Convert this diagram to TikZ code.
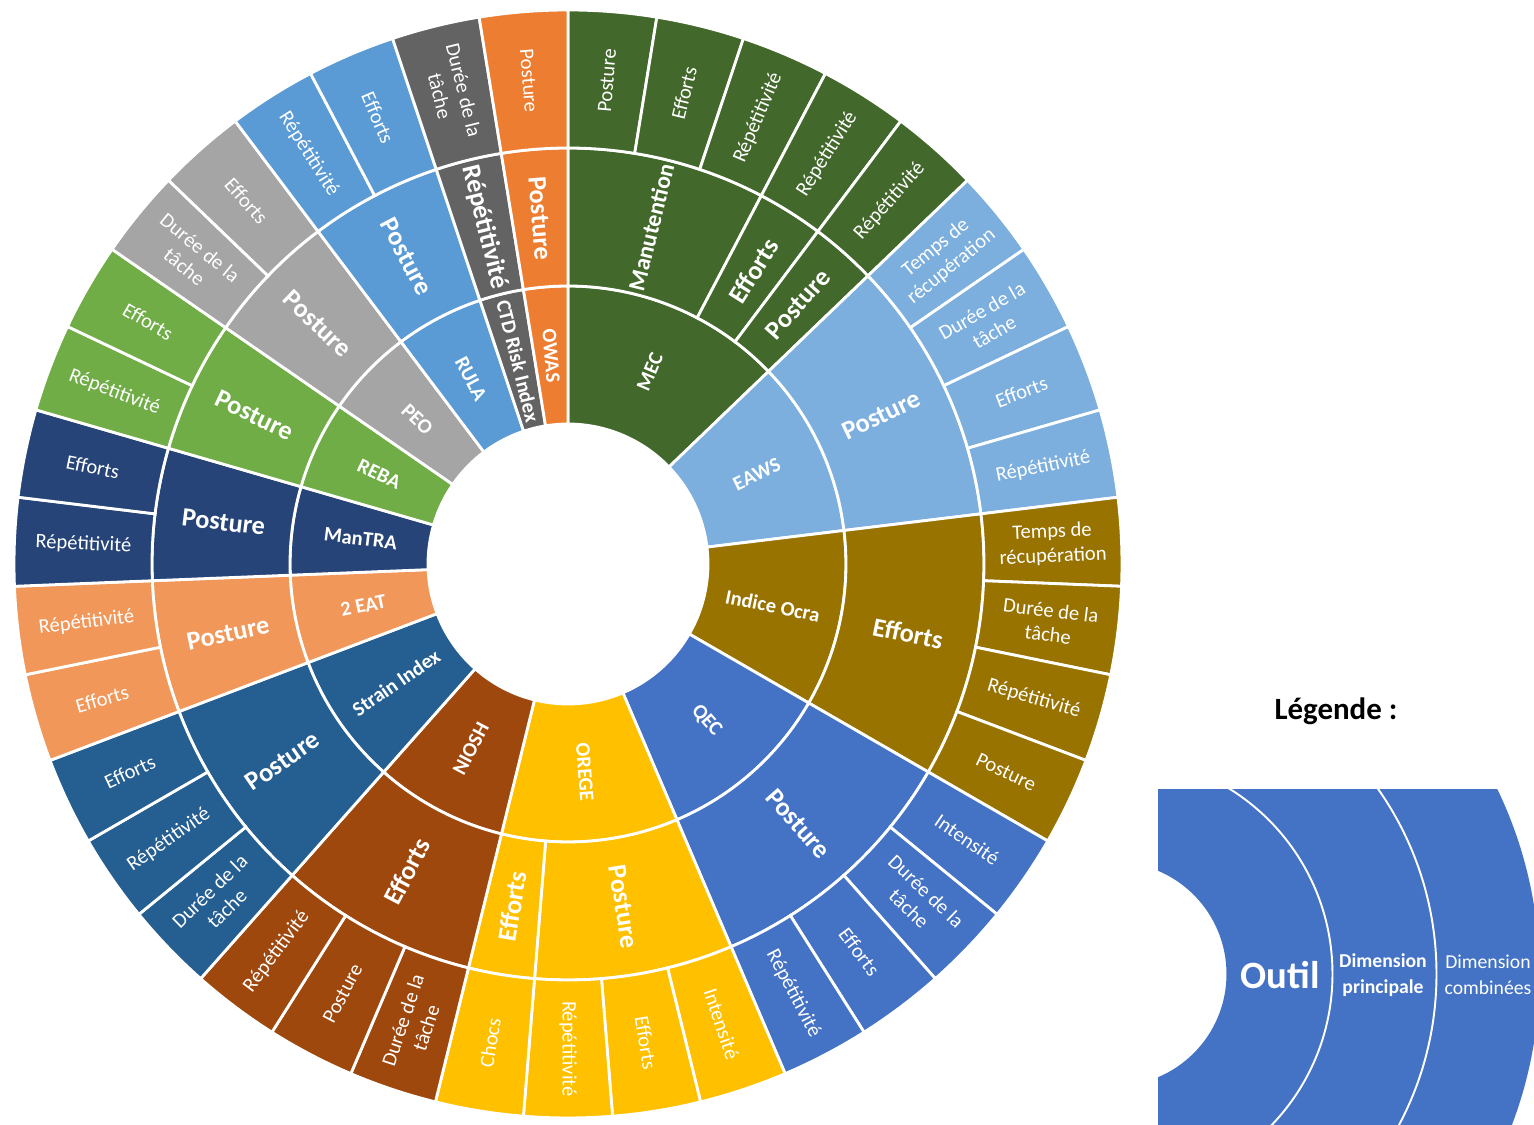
\documentclass[tikz,border=0pt]{standalone}
\usepackage{fontspec}
\setmainfont{Carlito}
\definecolor{MecClr}{HTML}{43682B}
\definecolor{EawsClr}{HTML}{7CAFDD}
\definecolor{OcraClr}{HTML}{997300}
\definecolor{QecClr}{HTML}{4472C4}
\definecolor{OregeClr}{HTML}{FFC000}
\definecolor{NioshClr}{HTML}{9E480E}
\definecolor{StrainClr}{HTML}{255E91}
\definecolor{EatClr}{HTML}{F1975A}
\definecolor{MantraClr}{HTML}{264478}
\definecolor{RebaClr}{HTML}{70AD47}
\definecolor{PeoClr}{HTML}{A5A5A5}
\definecolor{RulaClr}{HTML}{5B9BD5}
\definecolor{CtdClr}{HTML}{636363}
\definecolor{OwasClr}{HTML}{ED7D31}
\definecolor{LegClr}{HTML}{4472C4}

\tikzset{
  seg/.style={draw=white,line width=1.6pt},
  ring1/.style={text=white,font=\bfseries\fontsize{11.7}{14}\selectfont},
  ring2/.style={text=white,font=\bfseries\fontsize{15}{18}\selectfont},
  ring3/.style={text=white,align=center,font=\fontsize{11.7}{14}\selectfont},
}

% #1 ring, #2 first leaf, #3 last leaf, #4 colour, #5 name, #6 text
\newcommand{\Sect}[6]{%
  \pgfmathsetmacro{\aA}{90-#2*360/39}%
  \pgfmathsetmacro{\aB}{90-#3*360/39}%
  \pgfmathsetmacro{\rA}{2.8+(#1-1)*2.76}%
  \pgfmathsetmacro{\rB}{\rA+2.76}%
  \pgfmathsetmacro{\aM}{(\aA+\aB)/2}%
  \pgfmathsetmacro{\rM}{(\rA+\rB)/2}%
  \pgfmathsetmacro{\rot}{cos(\aM)<-0.01 ? \aM+180 : \aM}%
  \filldraw[seg,fill=#4] (\aA:\rA) arc[start angle=\aA,end angle=\aB,radius=\rA]
    -- (\aB:\rB) arc[start angle=\aB,end angle=\aA,radius=\rB] -- cycle;
  \node[ring#1,rotate=\rot] (#5) at (\aM:\rM) {#6};
}

\begin{document}
\begin{tikzpicture}
\useasboundingbox (-11.36,-11.22) rectangle (19.32,11.28);
\coordinate (O) at (0,0);

\Sect{1}{0}{5}{MecClr}{mec}{MEC}
\Sect{1}{5}{9}{EawsClr}{eaws}{EAWS}
\Sect{1}{9}{13}{OcraClr}{ocra}{Indice Ocra}
\Sect{1}{13}{17}{QecClr}{qec}{QEC}
\Sect{1}{17}{21}{OregeClr}{orege}{OREGE}
\Sect{1}{21}{24}{NioshClr}{niosh}{NIOSH}
\Sect{1}{24}{27}{StrainClr}{strain}{Strain Index}
\Sect{1}{27}{29}{EatClr}{eat}{2 EAT}
\Sect{1}{29}{31}{MantraClr}{mantra}{ManTRA}
\Sect{1}{31}{33}{RebaClr}{reba}{REBA}
\Sect{1}{33}{35}{PeoClr}{peo}{PEO}
\Sect{1}{35}{37}{RulaClr}{rula}{RULA}
\Sect{1}{37}{38}{CtdClr}{ctd}{CTD Risk Index}
\Sect{1}{38}{39}{OwasClr}{owas}{OWAS}

\Sect{2}{0}{3}{MecClr}{mec-man}{\fontsize{13.5}{16}\selectfont Manutention}
\Sect{2}{3}{4}{MecClr}{mec-eff}{Efforts}
\Sect{2}{4}{5}{MecClr}{mec-pos}{Posture}
\Sect{2}{5}{9}{EawsClr}{eaws-pos}{Posture}
\Sect{2}{9}{13}{OcraClr}{ocra-eff}{Efforts}
\Sect{2}{13}{17}{QecClr}{qec-pos}{Posture}
\Sect{2}{17}{20}{OregeClr}{orege-pos}{Posture}
\Sect{2}{20}{21}{OregeClr}{orege-eff}{Efforts}
\Sect{2}{21}{24}{NioshClr}{niosh-eff}{Efforts}
\Sect{2}{24}{27}{StrainClr}{strain-pos}{Posture}
\Sect{2}{27}{29}{EatClr}{eat-pos}{Posture}
\Sect{2}{29}{31}{MantraClr}{mantra-pos}{Posture}
\Sect{2}{31}{33}{RebaClr}{reba-pos}{Posture}
\Sect{2}{33}{35}{PeoClr}{peo-pos}{Posture}
\Sect{2}{35}{37}{RulaClr}{rula-pos}{Posture}
\Sect{2}{37}{38}{CtdClr}{ctd-rep}{Répétitivité}
\Sect{2}{38}{39}{OwasClr}{owas-pos}{Posture}

\Sect{3}{0}{1}{MecClr}{leaf1}{Posture}
\Sect{3}{1}{2}{MecClr}{leaf2}{Efforts}
\Sect{3}{2}{3}{MecClr}{leaf3}{Répétitivité}
\Sect{3}{3}{4}{MecClr}{leaf4}{Répétitivité}
\Sect{3}{4}{5}{MecClr}{leaf5}{Répétitivité}
\Sect{3}{5}{6}{EawsClr}{leaf6}{Temps de\\récupération}
\Sect{3}{6}{7}{EawsClr}{leaf7}{Durée de la\\tâche}
\Sect{3}{7}{8}{EawsClr}{leaf8}{Efforts}
\Sect{3}{8}{9}{EawsClr}{leaf9}{Répétitivité}
\Sect{3}{9}{10}{OcraClr}{leaf10}{Temps de\\récupération}
\Sect{3}{10}{11}{OcraClr}{leaf11}{Durée de la\\tâche}
\Sect{3}{11}{12}{OcraClr}{leaf12}{Répétitivité}
\Sect{3}{12}{13}{OcraClr}{leaf13}{Posture}
\Sect{3}{13}{14}{QecClr}{leaf14}{Intensité}
\Sect{3}{14}{15}{QecClr}{leaf15}{Durée de la\\tâche}
\Sect{3}{15}{16}{QecClr}{leaf16}{Efforts}
\Sect{3}{16}{17}{QecClr}{leaf17}{Répétitivité}
\Sect{3}{17}{18}{OregeClr}{leaf18}{Intensité}
\Sect{3}{18}{19}{OregeClr}{leaf19}{Efforts}
\Sect{3}{19}{20}{OregeClr}{leaf20}{Répétitivité}
\Sect{3}{20}{21}{OregeClr}{leaf21}{Chocs}
\Sect{3}{21}{22}{NioshClr}{leaf22}{Durée de la\\tâche}
\Sect{3}{22}{23}{NioshClr}{leaf23}{Posture}
\Sect{3}{23}{24}{NioshClr}{leaf24}{Répétitivité}
\Sect{3}{24}{25}{StrainClr}{leaf25}{Durée de la\\tâche}
\Sect{3}{25}{26}{StrainClr}{leaf26}{Répétitivité}
\Sect{3}{26}{27}{StrainClr}{leaf27}{Efforts}
\Sect{3}{27}{28}{EatClr}{leaf28}{Efforts}
\Sect{3}{28}{29}{EatClr}{leaf29}{Répétitivité}
\Sect{3}{29}{30}{MantraClr}{leaf30}{Répétitivité}
\Sect{3}{30}{31}{MantraClr}{leaf31}{Efforts}
\Sect{3}{31}{32}{RebaClr}{leaf32}{Répétitivité}
\Sect{3}{32}{33}{RebaClr}{leaf33}{Efforts}
\Sect{3}{33}{34}{PeoClr}{leaf34}{Durée de la\\tâche}
\Sect{3}{34}{35}{PeoClr}{leaf35}{Efforts}
\Sect{3}{35}{36}{RulaClr}{leaf36}{Répétitivité}
\Sect{3}{36}{37}{RulaClr}{leaf37}{Efforts}
\Sect{3}{37}{38}{CtdClr}{leaf38}{Durée de la\\tâche}
\Sect{3}{38}{39}{OwasClr}{leaf39}{Posture}

\node[font=\bfseries\fontsize{17.6}{21}\selectfont] (legtitle) at (15.36,-2.94) {Légende :};

\coordinate (LegC) at (10.93,-8.2);
\begin{scope}
\clip (11.8,-4.52) rectangle (19.32,-11.22);
\fill[LegClr,even odd rule] (LegC) circle[radius=8.5] (LegC) circle[radius=2.24];
\draw[white,line width=1.1pt] (LegC) circle[radius=4.36] (LegC) circle[radius=6.44];
\end{scope}
\node[text=white,font=\bfseries\fontsize{22}{26}\selectfont] (legtool) at (14.24,-8.22) {Outil};
\node[text=white,align=center,font=\bfseries\fontsize{11.2}{14.5}\selectfont] (legmain) at (16.3,-8.22) {Dimension\\principale};
\node[text=white,align=center,font=\fontsize{11.2}{14.5}\selectfont] (legcomb) at (18.4,-8.22) {Dimension\\combinées};

\end{tikzpicture}
\end{document}
